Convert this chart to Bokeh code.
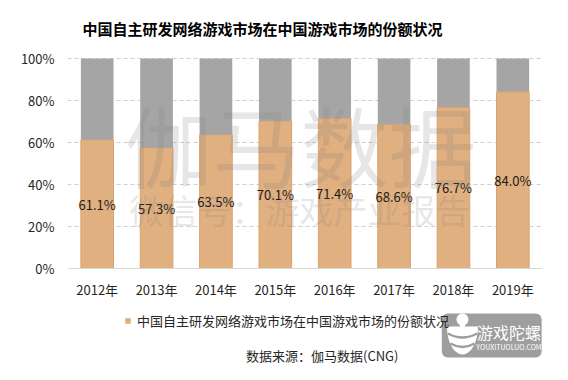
import math
from bokeh.plotting import figure
from bokeh.layouts import column
from bokeh.models import (ColumnDataSource, FactorRange, Range1d, FixedTicker,
                          PrintfTickFormatter, Label, Legend, LegendItem)
from bokeh.embed import file_html
from bokeh.resources import INLINE
from bokeh.core.properties import value

# ---- data ----
years = ["2012年", "2013年", "2014年", "2015年", "2016年", "2017年", "2018年", "2019年"]
share = [61.1, 57.3, 63.5, 70.1, 71.4, 68.6, 76.7, 84.0]
y_ticks = [0, 20, 40, 60, 80, 100]
title_text = "中国自主研发网络游戏市场在中国游戏市场的份额状况"
series_name = "中国自主研发网络游戏市场在中国游戏市场的份额状况"
source_text = "数据来源：伽马数据(CNG)"
watermark_main = "伽马数据"
watermark_sub = "微信号：游戏产业报告"
logo_text = "游戏陀螺"
logo_sub = "YOUXITUOLUO.COM"

FONT = "Noto Sans CJK SC"
ORANGE = "#E0B080"
GRAY = "#A5A5A5"
TXT = "#262626"
LOGO_BG = "#9E9E9E"

src = ColumnDataSource(dict(
    year=years,
    share=share,
    full=[100] * len(years),
    mid=[s / 2 for s in share],
    label=["%.1f%%" % s for s in share],
))

# ---------------- main chart ----------------
W = 552
p = figure(width=W, height=304, output_backend="svg", toolbar_location=None,
           x_range=FactorRange(factors=years), y_range=Range1d(0, 100 * 268 / 210),
           title=None,
           min_border_left=67, min_border_right=10, min_border_top=0, min_border_bottom=36)
p.outline_line_color = None

gray_r = p.vbar(x="year", width=0.55, bottom="share", top="full", source=src,
                fill_color=GRAY, line_color=None)
orange_r = p.vbar(x="year", width=0.55, bottom=0, top="share", source=src,
                  fill_color=ORANGE, line_color="#D8A470", line_width=1)

p.text(x="year", y="mid", text="label", source=src, text_align="center",
       text_baseline="middle", text_font=value(FONT), text_font_size="13px",
       text_color="#1a1a1a")

p.yaxis.ticker = FixedTicker(ticks=y_ticks)
p.yaxis.formatter = PrintfTickFormatter(format="%d%%")
p.yaxis.axis_line_color = None
p.yaxis.major_tick_line_color = None
p.yaxis.minor_tick_line_color = None
p.yaxis.major_label_text_font = FONT
p.yaxis.major_label_text_font_size = "13px"
p.yaxis.major_label_text_color = TXT
p.yaxis.major_label_standoff = 7

p.xaxis.axis_line_color = "#D9D9D9"
p.xaxis.major_tick_line_color = None
p.xaxis.minor_tick_line_color = None
p.xaxis.major_label_text_font = FONT
p.xaxis.major_label_text_font_size = "13px"
p.xaxis.major_label_text_color = TXT
p.xaxis.major_label_standoff = 5

p.xgrid.grid_line_color = None
p.ygrid.grid_line_color = "#D0D0D0"
p.ygrid.grid_line_dash = "4 3"

# title
p.add_layout(Label(x=3.284, y=114.3, text=title_text, text_font=FONT,
                   text_font_size="15px", text_font_style="bold", text_color="#000000",
                   text_align="center", text_baseline="middle"))

# watermark
p.add_layout(Label(x=3.924, y=60.0, text=watermark_main, text_font=FONT,
                   text_font_size="88px", text_color="#808080", text_alpha=0.2,
                   text_align="center", text_baseline="middle"))
p.add_layout(Label(x=3.907, y=28.1, text=watermark_sub, text_font=FONT,
                   text_font_size="34px", text_color="#808080", text_alpha=0.2,
                   text_align="center", text_baseline="middle"))

# ---------------- footer (legend, source, logo) ----------------
TOP = 304
f = figure(width=W, height=364 - TOP, output_backend="svg", toolbar_location=None,
           x_range=Range1d(0, W), y_range=Range1d(364, TOP),
           x_axis_type=None, y_axis_type=None, title=None,
           min_border_left=0, min_border_right=0, min_border_top=0, min_border_bottom=0)
f.outline_line_color = None
f.xgrid.grid_line_color = None
f.ygrid.grid_line_color = None

# logo badge (drawn first so that the legend text may overlap it like in the reference)
f.quad(left=[435], right=[551], top=[313], bottom=[357],
       fill_color=LOGO_BG, line_color=None, border_radius=6)
cx, cy, rx, ry = 459, 326, 18, 28
bowl_x = [cx + rx * math.cos(t * math.pi / 24) for t in range(25)]
bowl_y = [cy + ry * math.sin(t * math.pi / 24) for t in range(25)]
f.patch(bowl_x, bowl_y, fill_color="white", line_color=None)
f.quadratic(x0=[442, 445], y0=[333, 343], x1=[476, 473], y1=[333, 343],
            cx=[459, 459], cy=[341, 350], line_color=LOGO_BG, line_width=2.5)
f.scatter(x=[459], y=[319], size=12, marker="circle", fill_color="white", line_color=None)
f.scatter(x=[459], y=[325], size=8, marker="inverted_triangle", fill_color="white",
          line_color=None)
f.text(x=[513], y=[331], text=[logo_text], text_align="center", text_baseline="middle",
       text_font=value(FONT), text_font_size="16px", text_color="white")
f.text(x=[513], y=[346], text=[logo_sub], text_align="center", text_baseline="middle",
       text_font=value(FONT), text_font_size="7px", text_color="white")

# legend swatch renderer (its single bar lies outside the visible range)
leg_r = f.vbar(x=[-100], top=[0], bottom=[1], width=1,
               fill_color=ORANGE, line_color=None)
legend = Legend(items=[LegendItem(label=series_name, renderers=[leg_r])],
                location=(57, 34), orientation="horizontal",
                glyph_width=7, glyph_height=7, label_height=7, label_standoff=6,
                label_text_font=FONT, label_text_font_size="13px",
                label_text_color=TXT, padding=0, margin=0, spacing=0,
                border_line_color=None, background_fill_alpha=0)
f.add_layout(legend)

f.text(x=[296], y=[355], text=[source_text], text_align="center", text_baseline="middle",
       text_font=value(FONT), text_font_size="13px", text_color=TXT)

layout = column(p, f, spacing=0)
open("out.html", "w").write(file_html(layout, INLINE))
